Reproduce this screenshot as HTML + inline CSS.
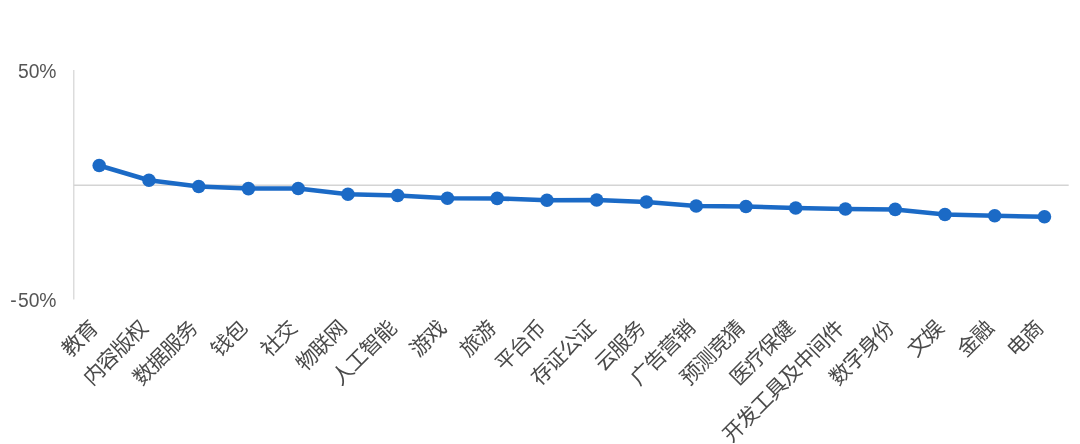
<!DOCTYPE html>
<html lang="zh-CN">
<head>
<meta charset="utf-8">
<title>chart</title>
<style>
html,body{margin:0;padding:0;background:#fff;}
body{width:1080px;height:444px;overflow:hidden;}
svg{display:block;}
.ax{stroke:#d4d4d4;stroke-width:1.2;fill:none;}
.num{font-family:"Liberation Sans","Noto Sans CJK SC",sans-serif;font-size:19.3px;fill:#555555;text-anchor:end;}
.cat text{font-family:"Liberation Sans","Noto Sans CJK SC",sans-serif;font-size:21.0px;font-weight:400;fill:#4a4a4a;text-anchor:end;letter-spacing:-0.9px;}
.ln{stroke:#1b6ac6;stroke-width:4.5;fill:none;stroke-linejoin:round;stroke-linecap:round;}
.mk circle{fill:#1b6ac6;}
</style>
</head>
<body>
<svg width="1080" height="444" viewBox="0 0 1080 444">
<rect width="1080" height="444" fill="#ffffff"/>
<g>
<line class="ax" x1="73.8" y1="70" x2="73.8" y2="299.5"/>
<line class="ax" x1="73.8" y1="185.3" x2="1068.7" y2="185.3" style="stroke-width:1.4"/>
<text class="num" x="56.5" y="77.7">50%</text>
<text class="num" x="56.5" y="307.2">-<tspan dx="1.3">50%</tspan></text>
<polyline class="ln" points="99.20,165.50 148.95,180.25 198.70,186.50 248.45,188.60 298.20,188.50 347.95,194.25 397.70,195.50 447.45,198.25 497.20,198.40 546.95,200.25 596.70,200.00 646.45,202.00 696.20,206.00 745.95,206.50 795.70,208.00 845.45,209.00 895.20,209.40 944.95,214.50 994.70,215.75 1044.45,216.75"/>
<g class="mk">
<circle cx="99.20" cy="165.50" r="6.8"/>
<circle cx="148.95" cy="180.25" r="6.8"/>
<circle cx="198.70" cy="186.50" r="6.8"/>
<circle cx="248.45" cy="188.60" r="6.8"/>
<circle cx="298.20" cy="188.50" r="6.8"/>
<circle cx="347.95" cy="194.25" r="6.8"/>
<circle cx="397.70" cy="195.50" r="6.8"/>
<circle cx="447.45" cy="198.25" r="6.8"/>
<circle cx="497.20" cy="198.40" r="6.8"/>
<circle cx="546.95" cy="200.25" r="6.8"/>
<circle cx="596.70" cy="200.00" r="6.8"/>
<circle cx="646.45" cy="202.00" r="6.8"/>
<circle cx="696.20" cy="206.00" r="6.8"/>
<circle cx="745.95" cy="206.50" r="6.8"/>
<circle cx="795.70" cy="208.00" r="6.8"/>
<circle cx="845.45" cy="209.00" r="6.8"/>
<circle cx="895.20" cy="209.40" r="6.8"/>
<circle cx="944.95" cy="214.50" r="6.8"/>
<circle cx="994.70" cy="215.75" r="6.8"/>
<circle cx="1044.45" cy="216.75" r="6.8"/>
</g>
<g class="cat">
<text x="99.00" y="329.7" transform="rotate(-45 99.00 329.7)">教育</text>
<text x="148.75" y="329.7" transform="rotate(-45 148.75 329.7)">内容版权</text>
<text x="198.50" y="329.7" transform="rotate(-45 198.50 329.7)">数据服务</text>
<text x="248.25" y="329.7" transform="rotate(-45 248.25 329.7)">钱包</text>
<text x="298.00" y="329.7" transform="rotate(-45 298.00 329.7)">社交</text>
<text x="347.75" y="329.7" transform="rotate(-45 347.75 329.7)">物联网</text>
<text x="397.50" y="329.7" transform="rotate(-45 397.50 329.7)">人工智能</text>
<text x="447.25" y="329.7" transform="rotate(-45 447.25 329.7)">游戏</text>
<text x="497.00" y="329.7" transform="rotate(-45 497.00 329.7)">旅游</text>
<text x="546.75" y="329.7" transform="rotate(-45 546.75 329.7)">平台币</text>
<text x="596.50" y="329.7" transform="rotate(-45 596.50 329.7)">存证公证</text>
<text x="646.25" y="329.7" transform="rotate(-45 646.25 329.7)">云服务</text>
<text x="696.00" y="329.7" transform="rotate(-45 696.00 329.7)">广告营销</text>
<text x="745.75" y="329.7" transform="rotate(-45 745.75 329.7)">预测竞猜</text>
<text x="795.50" y="329.7" transform="rotate(-45 795.50 329.7)">医疗保健</text>
<text x="845.25" y="329.7" transform="rotate(-45 845.25 329.7)">开发工具及中间件</text>
<text x="895.00" y="329.7" transform="rotate(-45 895.00 329.7)">数字身份</text>
<text x="944.75" y="329.7" transform="rotate(-45 944.75 329.7)">文娱</text>
<text x="994.50" y="329.7" transform="rotate(-45 994.50 329.7)">金融</text>
<text x="1044.25" y="329.7" transform="rotate(-45 1044.25 329.7)">电商</text>
</g>
</g>
</svg>
</body>
</html>
